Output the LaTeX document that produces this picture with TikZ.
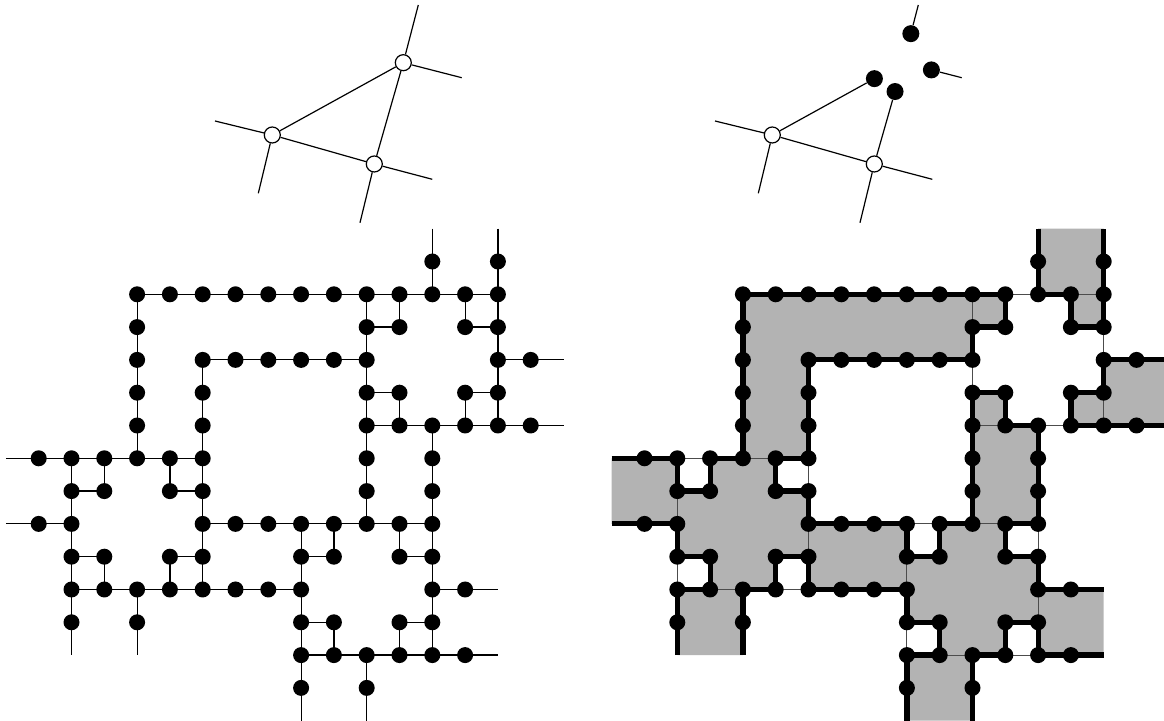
\documentclass[tikz,border=0pt]{standalone}
\usepackage{tikz}
\usetikzlibrary{calc}
\definecolor{TLgrey}{HTML}{B3B3B3}
\tikzset{
  bond/.style={line width=0.6pt, draw=black},
  fbond/.style={line width=0.5pt, draw=black!70},
  wall/.style={line width=2.6pt, draw=black},
  dfill/.style={fill=TLgrey},
  tline/.style={line width=0.6pt, draw=black},
  sdot/.style={circle, fill=black, inner sep=0pt, minimum size=8pt},
  tdot/.style={circle, fill=black, inner sep=0pt, minimum size=8.5pt},
  odot/.style={circle, draw=black, fill=white, line width=0.6pt,
    inner sep=0pt, minimum size=8pt},
}
\begin{document}
\begin{tikzpicture}[x=0.5pt, y=-0.5pt]
  \useasboundingbox (0,0) rectangle (1164,721);
  %% Top left: triangle
  \node[odot] (pv) at (272.3,135) {};
  \node[odot] (qv) at (403.3,62.7) {};
  \node[odot] (rv) at (374.3,164) {};
  \coordinate (pw) at (215,121);   \coordinate (ps) at (258.3,193.3);
  \coordinate (qn) at (418.3,5);   \coordinate (qe) at (461.7,77.7);
  \coordinate (re) at (432.3,179.3); \coordinate (rs) at (360,222.7);
  \draw[tline](pw)--(pv); \draw[tline](ps)--(pv);
  \draw[tline](qn)--(qv); \draw[tline](qe)--(qv);
  \draw[tline](re)--(rv); \draw[tline](rs)--(rv);
  \draw[tline](pv)--(qv); \draw[tline](pv)--(rv); \draw[tline](qv)--(rv);
  %% Top right: same triangle, one corner split
  \node[odot] (pv2) at (772.3,135) {};
  \node[odot] (rv2) at (874.3,164) {};
  \coordinate (qc2) at (903.3,62.7);
  \coordinate (pw2) at (715,121);   \coordinate (ps2) at (758.3,193.3);
  \coordinate (qn2) at (918.3,5);   \coordinate (qe2) at (961.7,77.7);
  \coordinate (re2) at (932.3,179.3); \coordinate (rs2) at (860,222.7);
  \node[tdot] (qd1) at ($(qc2)!16.5pt!(pv2.center)$) {};
  \node[tdot] (qd2) at ($(qc2)!15pt!(rv2.center)$) {};
  \node[tdot] (qd3) at ($(qc2)!15pt!(qn2)$) {};
  \node[tdot] (qd4) at ($(qc2)!14.5pt!(qe2)$) {};
  \draw[tline](pw2)--(pv2); \draw[tline](ps2)--(pv2);
  \draw[tline](re2)--(rv2); \draw[tline](rs2)--(rv2);
  \draw[tline](pv2)--(rv2);
  \draw[tline](pv2)--(qd1); \draw[tline](rv2)--(qd2);
  \draw[tline](qd3)--(qn2); \draw[tline](qd4)--(qe2);
  %% Lattice points, left (L) and right (R)
  \foreach \i in {-1,...,16}{
    \foreach \j in {-1,...,14}{
      \coordinate (L\i-\j) at ({38.7+32.8*\i},{261.5+32.8*\j});
      \coordinate (R\i-\j) at ({644.5+32.8*\i},{261.5+32.8*\j});
    }
  }
  %% Grey domains (right)
  \fill[dfill] (R-1-6)--(R1-6)--(R1-7)--(R2-7)--(R2-6)--(R3-6)--(R3-1)--(R11-1)
    --(R11-2)--(R10-2)--(R10-3)--(R5-3)--(R5-6)--(R4-6)--(R4-7)--(R5-7)--(R5-8)
    --(R8-8)--(R8-9)--(R9-9)--(R9-8)--(R10-8)--(R10-4)--(R11-4)--(R11-5)--(R12-5)
    --(R12-8)--(R11-8)--(R11-9)--(R12-9)--(R12-10)--(R14-10)--(R14-12)--(R12-12)
    --(R12-11)--(R11-11)--(R11-12)--(R10-12)--(R10-14)--(R8-14)--(R8-12)--(R9-12)
    --(R9-11)--(R8-11)--(R8-10)--(R5-10)--(R5-9)--(R4-9)--(R4-10)--(R3-10)--(R3-12)
    --(R1-12)--(R1-10)--(R2-10)--(R2-9)--(R1-9)--(R1-8)--(R-1-8)--cycle;
  \fill[dfill] (R12--1)--(R12-1)--(R13-1)--(R13-2)--(R14-2)--(R14--1)--cycle;
  \fill[dfill] (R16-3)--(R14-3)--(R14-4)--(R13-4)--(R13-5)--(R16-5)--cycle;
  %% Bonds
  \foreach \a/\j/\b in {3/1/14,10/2/11,13/2/14,5/3/10,14/3/16,10/4/11,13/4/14,
      10/5/16,-1/6/5,1/7/2,4/7/5,-1/8/1,5/8/12,1/9/2,4/9/5,8/9/9,11/9/12,
      1/10/8,12/10/14,8/11/9,11/11/12,8/12/14}{
    \draw[bond](L\a-\j)--(L\b-\j); \draw[fbond](R\a-\j)--(R\b-\j);
  }
  \foreach \i/\a/\b in {1/6/12,2/6/7,2/9/10,3/1/6,3/10/12,4/6/7,4/9/10,5/3/10,
      8/8/14,9/8/9,9/11/12,10/1/8,10/12/14,11/1/2,11/4/5,11/8/9,11/11/12,
      12/-1/1,12/5/12,13/1/2,13/4/5,14/-1/5}{
    \draw[bond](L\i-\a)--(L\i-\b); \draw[fbond](R\i-\a)--(R\i-\b);
  }
  %% Domain walls (right)
  \draw[wall] (R-1-6)--(R1-6)--(R1-7)--(R2-7)--(R2-6)--(R3-6)--(R3-1)--(R11-1)
    --(R11-2)--(R10-2)--(R10-3)--(R5-3)--(R5-6)--(R4-6)--(R4-7)--(R5-7)--(R5-8)
    --(R8-8)--(R8-9)--(R9-9)--(R9-8)--(R10-8)--(R10-4)--(R11-4)--(R11-5)--(R12-5)
    --(R12-8)--(R11-8)--(R11-9)--(R12-9)--(R12-10)--(R14-10);
  \draw[wall] (R14-12)--(R12-12)--(R12-11)--(R11-11)--(R11-12)--(R10-12)--(R10-14);
  \draw[wall] (R8-14)--(R8-12)--(R9-12)--(R9-11)--(R8-11)--(R8-10)--(R5-10)
    --(R5-9)--(R4-9)--(R4-10)--(R3-10)--(R3-12);
  \draw[wall] (R1-12)--(R1-10)--(R2-10)--(R2-9)--(R1-9)--(R1-8)--(R-1-8);
  \draw[wall] (R12--1)--(R12-1)--(R13-1)--(R13-2)--(R14-2)--(R14--1);
  \draw[wall] (R16-3)--(R14-3)--(R14-4)--(R13-4)--(R13-5)--(R16-5);
  %% Sites
  \foreach \j/\cols in {0/{12,14},1/{3,4,5,6,7,8,9,10,11,12,13,14},
      2/{3,10,11,13,14},3/{3,5,6,7,8,9,10,14,15},4/{3,5,10,11,13,14},
      5/{3,5,10,11,12,13,14,15},6/{0,1,2,3,4,5,10,12},7/{1,2,4,5,10,12},
      8/{0,1,5,6,7,8,9,10,11,12},9/{1,2,4,5,8,9,11,12},
      10/{1,2,3,4,5,6,7,8,12,13},11/{1,3,8,9,11,12},12/{8,9,10,11,12,13},
      13/{8,10}}{
    \foreach \i in \cols{
      \node[sdot] (Ldot\i-\j) at (L\i-\j) {};
      \node[sdot] (Rdot\i-\j) at (R\i-\j) {};
    }
  }
\end{tikzpicture}
\end{document}
